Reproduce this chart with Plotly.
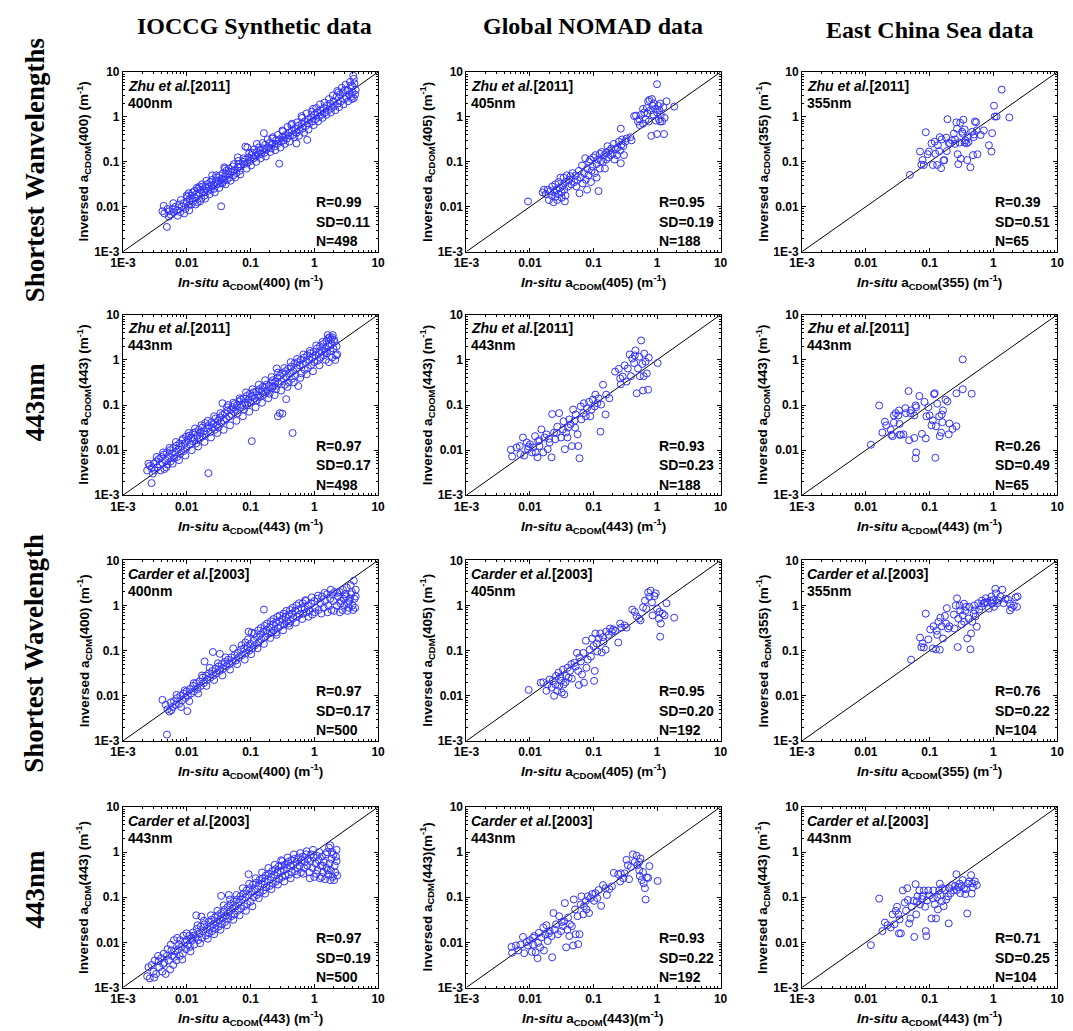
import plotly.graph_objects as go

W, H = 1073, 1031

# ---------------------------------------------------------------------------
# Matchup data, stored as log10 of absorption (m^-1): (in-situ, inversed)
# ---------------------------------------------------------------------------
ioccg_zhu_short = [
    (-2.38, -2.10), (-2.35, -2.15), (-2.30, -2.05), (-2.31, -2.45), (-2.27, -2.10), (-2.25, -2.18),
    (-2.22, -2.05), (-2.20, -2.12), (-2.18, -2.00), (-2.15, -2.08), (-2.12, -1.95), (-2.10, -2.12),
    (-2.08, -2.00), (-2.05, -1.92), (-2.02, -2.05), (-2.00, -1.88), (-1.98, -1.98), (-1.97, -1.70),
    (-1.95, -1.82), (-1.93, -1.95), (-1.92, -1.75), (-1.90, -1.88), (-1.88, -1.65), (-1.87, -1.80),
    (-1.85, -1.72), (-1.83, -1.90), (-1.82, -1.60), (-1.80, -1.70), (-1.78, -1.62), (-1.77, -1.82),
    (-1.75, -1.55), (-1.73, -1.68), (-1.72, -1.75), (-1.70, -1.58), (-1.68, -1.50), (-1.67, -1.65),
    (-1.65, -1.55), (-1.63, -1.45), (-1.62, -1.62), (-1.60, -1.40), (-1.58, -1.52), (-1.57, -1.60),
    (-1.55, -1.45), (-1.53, -1.35), (-1.52, -1.50), (-1.50, -1.42), (-1.48, -1.30), (-1.46, -1.99),
    (-1.47, -1.48), (-1.45, -1.38), (-1.43, -1.25), (-1.42, -1.42), (-1.40, -1.32), (-1.38, -1.20),
    (-1.37, -1.40), (-1.35, -1.28), (-1.33, -1.35), (-1.30, -1.22), (-1.28, -1.10), (-1.27, -1.30),
    (-1.25, -1.18), (-1.22, -1.25), (-1.20, -1.12), (-1.18, -1.05), (-1.17, -1.20), (-1.15, -1.10),
    (-1.12, -1.00), (-1.08, -0.66), (-1.05, -0.68), (-1.10, -1.05), (-1.08, -0.95), (-1.05, -1.02),
    (-1.03, -0.90), (-1.00, -0.98), (-0.98, -0.85), (-0.97, -0.80), (-0.95, -0.92), (-0.92, -0.88),
    (-0.90, -0.78), (-0.88, -0.85), (-0.85, -0.75), (-0.83, -0.82), (-0.80, -0.70), (-0.78, -0.80),
    (-0.77, -0.62), (-0.75, -0.72), (-0.72, -0.68), (-0.70, -0.58), (-0.68, -0.70), (-0.65, -0.60),
    (-0.79, -0.36), (-0.62, -0.65), (-0.60, -0.52), (-0.58, -0.60), (-0.55, -1.04), (-0.55, -0.50),
    (-0.52, -0.55), (-0.50, -0.45), (-0.48, -0.52), (-0.45, -0.40), (-0.43, -0.48), (-0.40, -0.35),
    (-0.38, -0.42), (-0.35, -0.30), (-0.33, -0.40), (-0.30, -0.25), (-0.28, -0.35), (-0.25, -0.20),
    (-0.23, -0.30), (-0.28, -0.59), (-0.20, -0.15), (-0.18, -0.25), (-0.15, -0.10), (-0.13, -0.20),
    (-0.11, -0.51), (-0.10, -0.05), (-0.08, -0.15), (-0.05, 0.00), (-0.03, -0.10), (0.00, 0.05),
    (0.02, -0.05), (0.05, 0.10), (0.07, 0.00), (0.10, 0.15), (0.12, 0.05), (0.15, 0.20),
    (0.17, 0.10), (0.20, 0.25), (0.22, 0.15), (0.25, 0.30), (0.27, 0.20), (0.30, 0.35),
    (0.32, 0.25), (0.35, 0.45), (0.37, 0.30), (0.40, 0.50), (0.42, 0.35), (0.45, 0.55),
    (0.47, 0.40), (0.50, 0.45), (0.52, 0.60), (0.55, 0.50), (0.57, 0.70), (0.60, 0.55),
    (0.62, 0.85), (0.63, 0.75), (0.65, 0.60), (0.58, 0.45), (0.62, 0.42), (0.48, 0.60),
    (0.38, 0.55), (-0.02, 0.18), (-0.20, 0.02), (-0.35, -0.15), (-0.50, -0.30), (-0.65, -0.45),
    (-0.90, -0.60), (-1.20, -0.90), (-1.40, -1.15), (-1.60, -1.30), (-1.80, -1.55), (-2.00, -1.75),
    (-2.36, -1.98), (-2.28, -2.22), (-2.21, -1.92), (-2.14, -2.20), (-2.09, -1.85), (-2.04, -2.15),
    (-1.99, -1.78), (-1.96, -2.08), (-1.91, -1.68), (-1.86, -1.95), (-1.84, -1.58), (-1.79, -1.88),
    (-1.76, -1.50), (-1.71, -1.82), (-1.69, -1.42), (-1.64, -1.72), (-1.61, -1.52), (-1.56, -1.68),
    (-1.54, -1.30), (-1.49, -1.58), (-1.44, -1.48), (-1.41, -1.12), (-1.39, -1.50), (-1.34, -1.15),
    (-1.31, -1.42), (-1.26, -1.05), (-1.24, -1.35), (-1.19, -0.98), (-1.16, -1.28), (-1.11, -0.92),
    (-1.06, -1.15), (-1.02, -0.80), (-0.99, -1.08), (-0.94, -0.72), (-0.91, -1.00), (-0.87, -0.68),
    (-0.84, -0.92), (-0.81, -0.58), (-0.76, -0.88), (-0.73, -0.50), (-0.69, -0.78), (-0.66, -0.48),
    (-0.61, -0.74), (-0.57, -0.40), (-0.53, -0.68), (-0.49, -0.32), (-0.46, -0.60), (-0.42, -0.22),
    (-0.39, -0.55), (-0.36, -0.18), (-0.31, -0.45), (-0.27, -0.12), (-0.24, -0.42), (-0.19, -0.02),
    (-0.16, -0.35), (-0.12, 0.08), (-0.09, -0.28), (-0.04, 0.12), (-0.01, -0.18), (0.03, 0.20),
    (0.06, -0.10), (0.09, 0.28), (0.13, -0.02), (0.16, 0.32), (0.19, 0.05), (0.23, 0.40),
    (0.26, 0.10), (0.29, 0.48), (0.33, 0.15), (0.36, 0.58), (0.39, 0.22), (0.43, 0.65),
    (0.46, 0.28), (0.49, 0.72), (0.53, 0.35), (0.56, 0.78), (0.59, 0.40), (0.61, 0.92),
    (0.64, 0.50), (0.60, 0.68),
]

nomad_zhu_short = [
    (-2.03, -1.88), (-1.80, -1.68), (-1.78, -1.62), (-1.75, -1.72), (-1.72, -1.62), (-1.70, -1.85),
    (-1.68, -1.65), (-1.66, -1.75), (-1.65, -1.55), (-1.63, -1.90), (-1.62, -1.68), (-1.60, -1.78),
    (-1.60, -1.50), (-1.58, -1.62), (-1.57, -1.85), (-1.55, -1.72), (-1.55, -1.45), (-1.53, -1.58),
    (-1.52, -1.35), (-1.50, -1.68), (-1.50, -1.80), (-1.48, -1.52), (-1.47, -1.35), (-1.46, -1.62),
    (-1.45, -1.88), (-1.44, -1.75), (-1.43, -1.45), (-1.42, -1.30), (-1.40, -1.55), (-1.38, -1.40),
    (-1.36, -1.32), (-1.35, -1.50), (-1.33, -1.25), (-1.30, -1.45), (-1.28, -1.30), (-1.27, -1.55),
    (-1.25, -1.40), (-1.23, -1.20), (-1.22, -1.70), (-1.20, -1.35), (-1.18, -1.08), (-1.17, -1.48),
    (-1.15, -1.25), (-1.13, -0.92), (-1.12, -1.40), (-1.10, -1.62), (-1.10, -1.15), (-1.08, -1.30),
    (-1.07, -1.00), (-1.05, -0.95), (-1.04, -1.45), (-1.03, -1.20), (-1.02, -1.10), (-1.00, -0.90),
    (-0.98, -1.25), (-0.97, -0.85), (-0.95, -1.05), (-0.95, -1.35), (-0.93, -0.95), (-0.92, -1.65),
    (-0.90, -0.82), (-0.90, -1.15), (-0.88, -0.98), (-0.87, -0.78), (-0.85, -1.00), (-0.83, -0.85),
    (-0.82, -1.15), (-0.80, -0.80), (-0.80, -0.95), (-0.78, -0.65), (-0.76, -0.90), (-0.75, -0.75),
    (-0.73, -0.85), (-0.72, -0.70), (-0.70, -0.82), (-0.68, -0.60), (-0.67, -0.95), (-0.65, -0.72),
    (-0.63, -0.85), (-0.62, -0.68), (-0.60, -0.55), (-0.57, -1.03), (-0.58, -0.75), (-0.56, -0.62),
    (-0.55, -0.50), (-0.53, -0.65), (-0.52, -0.85), (-0.50, -0.55), (-0.48, -0.48), (-0.57, -0.26),
    (-0.42, -0.45), (-0.40, -0.52),
    (-0.36, 0.02), (-0.33, 0.03), (-0.30, -0.10), (-0.28, -0.05), (-0.27, -0.18), (-0.25, 0.05),
    (-0.22, -0.15), (-0.20, 0.10), (-0.18, -0.05), (-0.16, 0.20), (-0.15, 0.08), (-0.13, -0.10),
    (-0.12, 0.38), (-0.10, 0.15), (-0.09, -0.42), (-0.08, 0.40), (-0.07, 0.25), (-0.06, 0.05),
    (-0.05, 0.30), (-0.03, 0.18), (-0.02, -0.08), (0.00, 0.73), (0.00, 0.10), (0.00, -0.38),
    (0.02, 0.25), (0.03, -0.05), (0.04, 0.15), (0.05, -0.10), (0.06, 0.05), (0.08, -0.10),
    (0.10, 0.22), (0.11, -0.38), (0.12, -0.02), (0.15, 0.35), (0.27, 0.23), (-0.22, 0.18),
    (-0.14, 0.35), (0.05, 0.30),
]

ecs_zhu_short = [
    (-1.31, -1.29), (-1.15, -0.77), (-1.13, -1.06), (-1.11, -0.96), (-1.09, -1.07), (-1.06, -0.34),
    (-1.03, -0.83), (-1.01, -0.77), (-0.97, -0.59), (-0.95, -1.07), (-0.92, -0.55), (-0.91, -0.82),
    (-0.88, -1.07), (-0.87, -0.63), (-0.84, -0.45), (-0.82, -1.14), (-0.81, -0.50), (-0.78, -0.97),
    (-0.77, -0.96), (-0.74, -0.46), (-0.73, -0.76), (-0.72, -0.05), (-0.70, -0.58), (-0.68, -0.59),
    (-0.62, -0.37), (-0.60, -0.60), (-0.58, -0.12), (-0.57, -0.26), (-0.56, -0.83), (-0.55, -1.05),
    (-0.53, -0.57), (-0.52, -0.13), (-0.51, -0.93), (-0.49, -0.33), (-0.48, -0.37), (-0.47, -0.06),
    (-0.45, -0.57), (-0.44, -0.52), (-0.41, -0.96), (-0.40, -0.45), (-0.36, -1.12), (-0.32, -0.85),
    (-0.31, -0.45), (-0.30, -0.39), (-0.29, -0.10), (-0.27, -0.12), (-0.26, -0.30), (-0.25, -0.83),
    (-0.15, -0.30), (-0.07, -0.63), (-0.03, -0.77), (0.01, 0.25), (0.02, 0.01), (0.05, 0.01),
    (0.13, 0.61), (0.25, -0.01), (-0.02, -0.36), (-0.45, -0.28), (-0.85, -0.76), (-0.39, -0.56),
    (-0.65, -0.52), (-0.42, -0.59), (-0.20, -0.40), (-0.60, -0.50), (-0.33, -0.33),
]

ioccg_zhu_443 = [
    (-2.62, -2.45), (-2.58, -2.35), (-2.55, -2.73), (-2.55, -2.40), (-2.52, -2.30), (-2.50, -2.45),
    (-2.48, -2.25), (-2.46, -2.38), (-2.44, -2.20), (-2.42, -2.32), (-2.40, -2.15), (-2.38, -2.28),
    (-2.36, -2.10), (-2.35, -2.42), (-2.33, -2.22), (-2.31, -2.05), (-2.30, -2.32), (-2.28, -2.15),
    (-2.26, -2.00), (-2.25, -2.25), (-2.23, -2.08), (-2.21, -1.95), (-2.20, -2.18), (-2.18, -2.05),
    (-2.16, -1.90), (-2.15, -2.15), (-2.13, -1.98), (-2.11, -1.85), (-2.10, -2.08), (-2.08, -1.92),
    (-2.06, -1.75), (-2.05, -2.02), (-2.03, -1.85), (-2.01, -1.70), (-2.00, -1.95), (-1.98, -1.78),
    (-1.96, -1.68), (-1.95, -1.88), (-1.93, -1.72), (-1.91, -1.80), (-1.90, -1.62), (-1.88, -1.75),
    (-1.86, -1.60), (-1.85, -1.85), (-1.83, -1.68), (-1.81, -1.55), (-1.80, -1.75), (-1.78, -1.62),
    (-1.76, -1.50), (-1.75, -1.70), (-1.73, -1.58), (-1.71, -1.40), (-1.70, -1.65), (-1.68, -1.52),
    (-1.66, -2.51), (-1.65, -1.45), (-1.63, -1.60), (-1.61, -1.38), (-1.60, -1.50), (-1.58, -1.42),
    (-1.56, -1.55), (-1.55, -1.30), (-1.53, -1.45), (-1.51, -1.35), (-1.50, -1.50), (-1.48, -1.28),
    (-1.46, -1.40), (-1.44, -0.96), (-1.44, -1.22), (-1.42, -1.35), (-1.40, -1.18), (-1.38, -1.30),
    (-1.36, -1.12), (-1.35, -1.00), (-1.33, -1.25), (-1.31, -1.10), (-1.30, -1.20), (-1.28, -1.05),
    (-1.26, -1.15), (-1.25, -0.98), (-1.23, -1.10), (-1.21, -1.00), (-1.20, -1.18), (-1.18, -0.92),
    (-1.16, -1.05), (-1.15, -0.88), (-1.13, -1.00), (-1.11, -0.85), (-1.10, -1.10), (-1.08, -0.95),
    (-1.06, -0.80), (-1.05, -1.00), (-1.03, -0.88), (-1.01, -0.75), (-1.00, -0.95), (-0.98, -1.80),
    (-0.98, -0.82), (-0.96, -0.92), (-0.95, -0.72), (-0.93, -0.85), (-0.91, -0.70), (-0.90, -0.90),
    (-0.88, -0.78), (-0.86, -0.65), (-0.85, -0.82), (-0.83, -0.70), (-0.81, -0.60), (-0.80, -0.78),
    (-0.78, -0.62), (-0.76, -0.72), (-0.75, -0.55), (-0.73, -0.68), (-0.71, -0.58), (-0.70, -0.75),
    (-0.68, -0.50), (-0.66, -0.62), (-0.65, -0.45), (-0.63, -0.58), (-0.61, -0.48), (-0.60, -0.65),
    (-0.59, -0.19), (-0.58, -0.40), (-0.57, -1.25), (-0.56, -0.52), (-0.54, -1.18), (-0.54, -0.35),
    (-0.52, -0.48), (-0.50, -1.19), (-0.50, -0.30), (-0.48, -0.42), (-0.46, -0.55), (-0.45, -0.25),
    (-0.44, -0.87), (-0.43, -0.38), (-0.41, -0.20), (-0.40, -0.50), (-0.38, -0.30), (-0.36, -0.15),
    (-0.35, -0.42), (-0.34, -1.62), (-0.33, -0.25), (-0.31, -0.08), (-0.30, -0.35), (-0.28, -0.18),
    (-0.26, -0.05), (-0.25, -0.58), (-0.23, -0.12), (-0.21, 0.00), (-0.20, -0.30), (-0.18, -0.10),
    (-0.16, 0.05), (-0.15, -0.22), (-0.13, -0.05), (-0.11, 0.10), (-0.10, -0.18), (-0.08, 0.00),
    (-0.06, 0.15), (-0.05, -0.12), (-0.03, 0.05), (-0.01, 0.18), (0.00, -0.05), (0.02, 0.10),
    (0.04, 0.25), (0.05, -0.02), (0.07, 0.15), (0.09, 0.30), (0.10, 0.05), (0.12, 0.20),
    (0.14, 0.35), (0.15, 0.10), (0.17, 0.25), (0.19, 0.42), (0.20, 0.15), (0.22, 0.30),
    (0.24, 0.50), (0.25, 0.20), (0.27, 0.35), (0.29, 0.55), (0.30, 0.25), (0.32, 0.40),
    (0.34, 0.10), (0.35, 0.30), (0.36, 0.12), (0.22, 0.48), (0.26, 0.45), (0.28, 0.05),
    (-2.60, -2.30), (-2.53, -2.52), (-2.47, -2.15), (-2.41, -2.45), (-2.37, -2.05), (-2.32, -2.38),
    (-2.27, -1.95), (-2.22, -2.30), (-2.17, -1.82), (-2.12, -2.22), (-2.07, -1.78), (-2.02, -2.12),
    (-1.97, -1.62), (-1.92, -2.00), (-1.87, -1.52), (-1.82, -1.92), (-1.77, -1.45), (-1.72, -1.82),
    (-1.67, -1.35), (-1.62, -1.72), (-1.57, -1.25), (-1.52, -1.62), (-1.47, -1.18), (-1.42, -1.55),
    (-1.37, -1.05), (-1.32, -1.45), (-1.27, -0.95), (-1.22, -1.35), (-1.17, -0.85), (-1.12, -1.25),
    (-1.07, -0.72), (-1.02, -1.15), (-0.97, -0.65), (-0.92, -1.05), (-0.87, -0.55), (-0.82, -0.95),
    (-0.77, -0.45), (-0.72, -0.85), (-0.67, -0.38), (-0.62, -0.78), (-0.57, -0.28), (-0.52, -0.68),
    (-0.47, -0.18), (-0.42, -0.60), (-0.37, -0.05), (-0.32, -0.50), (-0.27, 0.02), (-0.22, -0.40),
    (-0.17, 0.12), (-0.12, -0.32), (-0.07, 0.20), (-0.02, -0.25), (0.03, 0.32), (0.08, -0.12),
    (0.13, 0.40), (0.18, 0.00), (0.21, 0.55), (0.23, -0.05), (0.28, 0.50), (0.31, 0.45),
    (0.33, 0.00), (0.18, 0.18),
]

nomad_zhu_443 = [
    (-2.30, -1.99), (-2.28, -2.14), (-2.21, -1.94), (-2.16, -1.91), (-2.15, -2.09), (-2.11, -1.72),
    (-2.09, -2.12), (-2.05, -1.83), (-2.03, -1.98), (-2.00, -1.87), (-1.97, -2.05), (-1.95, -1.94),
    (-1.92, -1.69), (-1.91, -2.05), (-1.88, -2.16), (-1.87, -1.80), (-1.85, -1.91), (-1.82, -1.54),
    (-1.79, -2.05), (-1.77, -1.72), (-1.74, -1.65), (-1.72, -1.98), (-1.69, -1.83), (-1.66, -2.16),
    (-1.65, -1.20), (-1.62, -1.61), (-1.60, -1.76), (-1.57, -1.48), (-1.54, -1.18), (-1.51, -1.72),
    (-1.48, -1.54), (-1.47, -1.36), (-1.45, -1.98), (-1.43, -1.61), (-1.41, -1.72), (-1.38, -1.32),
    (-1.36, -1.43), (-1.34, -1.91), (-1.32, -1.10), (-1.29, -1.50), (-1.28, -1.21), (-1.25, -1.65),
    (-1.24, -1.91), (-1.22, -2.18), (-1.20, -1.03), (-1.19, -1.32), (-1.16, -1.18), (-1.15, -0.96),
    (-1.12, -1.25), (-1.10, -1.07), (-1.07, -0.93), (-1.05, -1.25), (-1.03, -1.10), (-1.01, -0.88),
    (-0.98, -1.03), (-0.97, -0.77), (-0.94, -0.96), (-0.92, -0.85), (-0.89, -1.59), (-0.88, -0.99),
    (-0.85, -0.55), (-0.81, -1.21), (-0.80, -0.77), (-0.75, -0.85), (-1.70, -1.75), (-1.58, -1.62),
    (-1.40, -1.50), (-1.30, -1.35), (-1.85, -1.78), (-2.02, -1.92),
    (-0.66, -0.26), (-0.60, -0.20), (-0.58, -0.41), (-0.57, -0.54), (-0.54, -0.37), (-0.51, -0.12),
    (-0.48, -0.48), (-0.46, -0.19), (-0.43, 0.12), (-0.41, -0.36), (-0.39, 0.03), (-0.36, -0.07),
    (-0.34, 0.21), (-0.32, -0.74), (-0.30, -0.19), (-0.28, 0.07), (-0.27, -0.36), (-0.25, 0.43),
    (-0.23, -0.09), (-0.22, -0.68), (-0.21, -0.36), (-0.18, -0.04), (-0.16, -0.30), (-0.14, -0.66),
    (-0.13, 0.05), (0.01, -0.07), (-0.20, 0.14), (-0.35, 0.10),
]

ecs_zhu_443 = [
    (-1.92, -1.88), (-1.79, -1.01), (-1.74, -1.61), (-1.70, -1.37), (-1.68, -1.45), (-1.61, -1.55),
    (-1.60, -1.66), (-1.58, -1.69), (-1.56, -1.23), (-1.56, -1.39), (-1.53, -1.18), (-1.49, -1.23),
    (-1.48, -1.12), (-1.47, -1.42), (-1.47, -1.66), (-1.45, -1.66), (-1.41, -1.65), (-1.38, -1.07),
    (-1.37, -1.18), (-1.33, -0.69), (-1.32, -1.78), (-1.30, -1.18), (-1.29, -1.12), (-1.24, -1.23),
    (-1.24, -1.73), (-1.22, -1.01), (-1.21, -1.05), (-1.21, -2.05), (-1.22, -2.18), (-1.16, -0.80),
    (-1.12, -1.64), (-1.08, -0.93), (-1.06, -1.74), (-1.05, -1.25), (-1.02, -1.05), (-1.00, -1.23),
    (-0.97, -1.45), (-0.95, -1.34), (-0.93, -0.76), (-0.92, -0.74), (-0.91, -2.17), (-0.90, -1.47),
    (-0.88, -0.97), (-0.85, -1.25), (-0.84, -1.69), (-0.82, -1.61), (-0.81, -1.21), (-0.80, -1.38),
    (-0.79, -1.12), (-0.75, -0.88), (-0.72, -0.92), (-0.70, -1.65), (-0.69, -1.41), (-0.64, -1.53),
    (-0.58, -1.47), (-0.58, -0.74), (-0.48, 0.01), (-0.48, -0.65), (-0.34, -0.75),
]

ioccg_carder_short = [
    (-2.38, -2.09), (-2.31, -2.86), (-2.30, -2.30), (-2.27, -2.35), (-2.25, -2.15), (-2.22, -2.25),
    (-2.20, -2.12), (-2.17, -2.20), (-2.15, -2.05), (-2.12, -2.18), (-2.10, -2.00), (-2.07, -2.10),
    (-2.05, -1.95), (-2.02, -2.05), (-1.99, -2.34), (-2.00, -1.90), (-1.98, -2.00), (-1.95, -1.85),
    (-1.93, -1.95), (-1.90, -1.78), (-1.88, -1.90), (-1.85, -1.72), (-1.83, -1.85), (-1.80, -1.68),
    (-1.78, -1.78), (-1.75, -1.60), (-1.73, -1.72), (-1.72, -1.24), (-1.70, -1.55), (-1.68, -1.65),
    (-1.65, -1.50), (-1.63, -1.60), (-1.60, -1.45), (-1.59, -1.03), (-1.58, -1.55), (-1.55, -1.40),
    (-1.53, -1.50), (-1.50, -1.35), (-1.48, -1.07), (-1.48, -1.45), (-1.45, -1.30), (-1.43, -1.40),
    (-1.40, -1.25), (-1.38, -1.35), (-1.35, -1.20), (-1.33, -1.30), (-1.30, -1.15), (-1.28, -1.25),
    (-1.25, -1.10), (-1.23, -1.22), (-1.20, -1.05), (-1.18, -1.15), (-1.15, -0.98), (-1.13, -1.10),
    (-1.10, -0.95), (-1.08, -0.82), (-1.07, -1.05), (-1.05, -0.92), (-1.03, -0.58), (-1.02, -1.00),
    (-1.00, -0.85), (-0.98, -0.60), (-0.97, -0.95), (-0.95, -0.78), (-0.93, -0.88), (-0.90, -0.70),
    (-0.88, -0.55), (-0.87, -0.82), (-0.85, -0.65), (-0.83, -0.75), (-0.80, -0.58), (-0.79, -0.09),
    (-0.78, -0.45), (-0.77, -0.70), (-0.75, -0.55), (-0.73, -0.62), (-0.70, -0.48), (-0.68, -0.35),
    (-0.67, -0.60), (-0.65, -0.42), (-0.63, -0.55), (-0.60, -0.38), (-0.58, -0.25), (-0.57, -0.50),
    (-0.55, -0.35), (-0.53, -0.45), (-0.50, -0.30), (-0.48, -0.18), (-0.47, -0.42), (-0.45, -0.25),
    (-0.43, -0.35), (-0.40, -0.20), (-0.38, -0.10), (-0.37, -0.35), (-0.35, -0.18), (-0.33, -0.28),
    (-0.30, -0.12), (-0.28, 0.00), (-0.27, -0.25), (-0.25, -0.10), (-0.23, -0.20), (-0.20, -0.05),
    (-0.18, 0.05), (-0.17, -0.18), (-0.15, -0.08), (-0.13, 0.10), (-0.12, -0.15), (-0.10, 0.00),
    (-0.08, -0.12), (-0.05, 0.05), (-0.03, -0.20), (0.00, 0.10), (0.02, -0.05), (0.05, 0.15),
    (0.07, -0.10), (0.10, 0.05), (0.12, 0.20), (0.15, -0.05), (0.17, 0.10), (0.20, 0.25),
    (0.22, 0.00), (0.25, 0.15), (0.27, -0.10), (0.30, 0.10), (0.32, 0.30), (0.35, 0.00),
    (0.37, 0.20), (0.40, -0.15), (0.42, 0.10), (0.45, 0.35), (0.47, 0.00), (0.50, 0.20),
    (0.52, -0.12), (0.55, 0.10), (0.57, 0.45), (0.58, 0.25), (0.60, 0.00), (0.62, 0.55),
    (0.63, 0.15), (0.65, 0.35), (0.64, -0.05), (0.40, 0.30), (0.28, 0.25), (-0.40, -0.40),
    (-0.60, -0.60),
    (-2.33, -2.20), (-2.24, -2.32), (-2.16, -1.98), (-2.09, -2.25), (-2.03, -1.88), (-1.96, -2.12),
    (-1.89, -1.72), (-1.82, -1.95), (-1.76, -1.55), (-1.69, -1.78), (-1.64, -1.38), (-1.57, -1.65),
    (-1.51, -1.28), (-1.44, -1.55), (-1.39, -1.15), (-1.32, -1.42), (-1.27, -0.95), (-1.21, -1.30),
    (-1.14, -0.88), (-1.09, -1.20), (-1.04, -0.75), (-0.99, -1.08), (-0.94, -0.62), (-0.89, -0.95),
    (-0.84, -0.50), (-0.79, -0.85), (-0.74, -0.40), (-0.69, -0.72), (-0.64, -0.30), (-0.59, -0.65),
    (-0.54, -0.22), (-0.49, -0.55), (-0.44, -0.12), (-0.39, -0.45), (-0.34, -0.05), (-0.29, -0.38),
    (-0.24, 0.05), (-0.19, -0.30), (-0.14, 0.12), (-0.09, -0.25), (-0.04, 0.18), (0.01, -0.15),
    (0.06, 0.22), (0.11, -0.18), (0.16, 0.28), (0.21, -0.15), (0.26, 0.35), (0.31, -0.12),
    (0.36, 0.28), (0.41, 0.05), (0.44, -0.10), (0.48, 0.25), (0.51, 0.40), (0.54, -0.05),
    (0.56, 0.15), (0.59, 0.30), (0.61, -0.10), (0.65, 0.20), (0.53, 0.05), (0.46, 0.15),
]

nomad_carder_short = [
    (-2.02, -1.87), (-1.83, -1.71), (-1.79, -1.70), (-1.74, -1.89), (-1.72, -1.75), (-1.69, -1.64),
    (-1.66, -1.82), (-1.64, -1.67), (-1.62, -2.00), (-1.60, -1.75), (-1.59, -1.56), (-1.57, -1.89),
    (-1.55, -1.49), (-1.54, -1.78), (-1.51, -1.67), (-1.50, -1.93), (-1.48, -1.42), (-1.47, -1.75),
    (-1.46, -1.97), (-1.43, -1.56), (-1.41, -1.38), (-1.39, -1.60), (-1.37, -1.45), (-1.34, -1.62),
    (-1.30, -1.27), (-1.28, -1.35), (-1.26, -1.05), (-1.24, -1.45), (-1.23, -1.76), (-1.20, -1.24),
    (-1.18, -1.53), (-1.16, -1.05), (-1.15, -1.71), (-1.12, -0.78), (-1.11, -1.38), (-1.09, -1.20),
    (-1.06, -0.98), (-1.04, -1.13), (-1.02, -0.73), (-0.99, -1.67), (-0.98, -1.45), (-0.97, -0.62),
    (-0.95, -0.84), (-0.94, -1.02), (-0.92, -0.73), (-0.89, -0.62), (-0.87, -1.04), (-0.84, -0.80),
    (-0.81, -0.98), (-0.80, -0.58), (-0.76, -0.65), (-0.74, -0.51), (-0.71, -0.58), (-0.69, -0.53),
    (-0.66, -0.56), (-0.61, -0.82), (-0.58, -0.40), (-0.56, -0.49), (-0.51, -0.44), (-0.48, -0.49),
    (-1.52, -1.58), (-1.44, -1.70), (-1.35, -1.30), (-1.22, -1.15), (-1.00, -0.90), (-0.85, -0.70),
    (-0.39, -0.09), (-0.35, -0.14), (-0.32, -0.24), (-0.28, -0.29), (-0.26, -0.33), (-0.22, -0.04),
    (-0.19, 0.11), (-0.17, -0.07), (-0.14, 0.29), (-0.12, 0.19), (-0.10, 0.33), (-0.08, 0.07),
    (-0.07, -0.22), (-0.04, 0.21), (-0.02, 0.27), (0.00, -0.07), (0.03, -0.29), (0.04, -0.14),
    (0.05, -0.69), (0.06, -0.40), (0.09, -0.18), (0.12, -0.22), (0.15, 0.05), (0.27, -0.27),
]

ecs_carder_short = [
    (-1.29, -1.20), (-1.15, -0.71), (-1.13, -0.92), (-1.11, -0.84), (-1.09, -0.93), (-1.06, -0.18),
    (-1.02, -0.75), (-0.99, -0.53), (-0.95, -0.95), (-0.94, -0.46), (-0.90, -0.97), (-0.89, -0.56),
    (-0.88, -0.65), (-0.86, -0.36), (-0.84, -0.98), (-0.83, -0.27), (-0.81, -0.46), (-0.79, -0.73),
    (-0.76, -0.23), (-0.74, -0.40), (-0.73, -0.06), (-0.71, -0.51), (-0.69, -0.46), (-0.62, -0.20),
    (-0.61, -0.51), (-0.59, 0.00), (-0.57, 0.16), (-0.56, -0.92), (-0.55, -0.29), (-0.53, 0.00),
    (-0.52, -0.11), (-0.50, -0.42), (-0.48, -0.22), (-0.46, 0.04), (-0.46, -0.36), (-0.44, -0.12),
    (-0.43, -0.03), (-0.41, -0.73), (-0.39, -0.29), (-0.38, -0.03), (-0.36, -0.97), (-0.35, -0.62),
    (-0.33, -0.36), (-0.31, -0.18), (-0.30, 0.00), (-0.29, -0.11), (-0.28, -0.24), (-0.26, -0.47),
    (-0.24, 0.05), (-0.22, -0.09), (-0.18, 0.11), (-0.15, 0.05), (-0.12, 0.16), (-0.10, 0.07),
    (-0.07, -0.07), (-0.05, 0.11), (-0.03, 0.20), (-0.02, 0.04), (0.00, 0.12), (0.01, -0.03),
    (0.03, 0.37), (0.04, 0.27), (0.06, 0.05), (0.08, 0.11), (0.11, 0.20), (0.14, 0.35),
    (0.16, 0.05), (0.19, 0.15), (0.23, 0.13), (0.26, -0.11), (0.29, -0.05), (0.32, 0.00),
    (0.35, 0.18), (0.37, -0.03), (0.38, 0.20), (0.26, 0.04), (-0.13, 0.07), (-0.18, -0.02),
]

ioccg_carder_443 = [
    (-2.62, -2.75), (-2.58, -2.80), (-2.55, -2.50), (-2.52, -2.65), (-2.50, -2.40), (-2.48, -2.70),
    (-2.45, -2.30), (-2.43, -2.55), (-2.40, -2.35), (-2.38, -2.65), (-2.36, -2.25), (-2.35, -2.45),
    (-2.33, -2.70), (-2.30, -2.15), (-2.28, -2.40), (-2.26, -2.60), (-2.25, -2.05), (-2.23, -2.30),
    (-2.21, -2.50), (-2.20, -1.95), (-2.18, -2.20), (-2.16, -2.40), (-2.15, -1.90), (-2.13, -2.15),
    (-2.11, -2.30), (-2.10, -1.95), (-2.08, -2.10), (-2.06, -2.25), (-2.05, -1.85), (-2.03, -2.00),
    (-2.01, -2.15), (-2.00, -1.95), (-1.98, -2.05), (-1.96, -1.85), (-1.95, -2.10), (-1.93, -1.90),
    (-1.91, -1.95), (-1.90, -1.78), (-1.88, -2.05), (-1.86, -1.88), (-1.85, -1.40), (-1.84, -1.70),
    (-1.82, -1.95), (-1.80, -1.80), (-1.78, -1.65), (-1.77, -1.43), (-1.76, -1.90), (-1.74, -1.75),
    (-1.72, -1.60), (-1.70, -1.85), (-1.68, -1.70), (-1.66, -1.55), (-1.65, -1.80), (-1.63, -1.65),
    (-1.61, -1.50), (-1.60, -1.75), (-1.58, -1.60), (-1.56, -1.45), (-1.55, -1.70), (-1.53, -1.55),
    (-1.51, -1.40), (-1.50, -1.65), (-1.48, -1.50), (-1.46, -0.97), (-1.46, -1.35), (-1.45, -1.60),
    (-1.43, -1.45), (-1.41, -1.28), (-1.40, -1.55), (-1.38, -1.40), (-1.36, -1.22), (-1.34, -0.95),
    (-1.35, -1.48), (-1.33, -1.32), (-1.31, -1.15), (-1.30, -1.42), (-1.28, -1.25), (-1.26, -1.10),
    (-1.25, -1.38), (-1.23, -1.20), (-1.21, -1.05), (-1.20, -1.30), (-1.18, -1.12), (-1.16, -0.98),
    (-1.15, -1.25), (-1.13, -1.05), (-1.11, -0.92), (-1.10, -1.20), (-1.08, -1.00), (-1.06, -0.85),
    (-1.05, -1.15), (-1.03, -0.49), (-1.03, -0.95), (-1.01, -0.80), (-1.00, -1.10), (-0.98, -0.88),
    (-0.96, -0.72), (-0.95, -1.00), (-0.93, -0.82), (-0.91, -0.68), (-0.90, -0.95), (-0.88, -0.75),
    (-0.86, -0.62), (-0.85, -0.90), (-0.83, -0.70), (-0.81, -0.58), (-0.80, -0.85), (-0.78, -0.65),
    (-0.76, -0.52), (-0.75, -0.78), (-0.73, -0.60), (-0.71, -0.48), (-0.70, -0.75), (-0.68, -0.55),
    (-0.66, -0.42), (-0.65, -0.70), (-0.63, -0.50), (-0.61, -0.38), (-0.60, -0.65), (-0.58, -0.45),
    (-0.56, -0.32), (-0.55, -0.60), (-0.53, -0.42), (-0.51, -0.30), (-0.50, -0.20), (-0.50, -0.55),
    (-0.48, -0.38), (-0.46, -0.28), (-0.45, -0.52), (-0.43, -0.35), (-0.41, -0.22), (-0.40, -0.50),
    (-0.38, -0.30), (-0.36, -0.18), (-0.35, -0.45), (-0.33, -0.28), (-0.31, -0.15), (-0.30, -0.42),
    (-0.28, -0.22), (-0.26, -0.35), (-0.25, -0.12), (-0.23, -0.30), (-0.21, -0.45), (-0.20, -0.18),
    (-0.18, -0.10), (-0.16, -0.35), (-0.15, -0.22), (-0.13, -0.05), (-0.11, -0.30), (-0.10, -0.15),
    (-0.08, -0.45), (-0.06, -0.20), (-0.05, -0.05), (-0.03, -0.35), (-0.01, -0.12), (0.00, -0.55),
    (0.02, -0.25), (0.04, -0.08), (0.05, -0.40), (0.07, -0.18), (0.09, -0.58), (0.10, -0.30),
    (0.12, -0.10), (0.14, -0.45), (0.15, -0.22), (0.17, -0.60), (0.19, -0.35), (0.20, 0.00),
    (0.22, -0.50), (0.23, 0.10), (0.24, -0.25), (0.26, -0.40), (0.27, -0.15), (0.29, -0.55),
    (0.30, -0.05), (0.32, -0.30), (0.33, -0.45), (0.35, -0.20), (0.36, -0.52), (0.35, 0.05),
    (0.25, 0.15),
    (-2.60, -2.55), (-2.51, -2.78), (-2.44, -2.42), (-2.37, -2.48), (-2.31, -2.30), (-2.24, -2.18),
    (-2.19, -2.32), (-2.12, -2.05), (-2.07, -2.38), (-2.00, -1.80), (-1.94, -2.20), (-1.89, -1.85),
    (-1.83, -1.62), (-1.79, -2.02), (-1.73, -1.52), (-1.67, -1.92), (-1.62, -1.40), (-1.57, -1.82),
    (-1.52, -1.30), (-1.47, -1.72), (-1.42, -1.18), (-1.37, -1.62), (-1.32, -1.05), (-1.27, -1.50),
    (-1.22, -0.95), (-1.17, -1.40), (-1.12, -0.80), (-1.07, -1.30), (-1.02, -0.70), (-0.97, -1.20),
    (-0.92, -0.58), (-0.87, -1.02), (-0.82, -0.45), (-0.77, -0.92), (-0.72, -0.35), (-0.67, -0.82),
    (-0.62, -0.28), (-0.57, -0.72), (-0.52, -0.18), (-0.47, -0.65), (-0.42, -0.12), (-0.37, -0.58),
    (-0.32, -0.05), (-0.27, -0.50), (-0.22, -0.02), (-0.17, -0.48), (-0.12, 0.02), (-0.07, -0.58),
    (-0.02, 0.05), (0.03, -0.48), (0.08, 0.00), (0.13, -0.30), (0.18, -0.05), (0.21, -0.40),
    (0.28, 0.00), (0.31, -0.62), (0.34, -0.10), (0.25, -0.62), (0.12, -0.55),
]

nomad_carder_443 = [
    (-2.29, -2.10), (-2.28, -2.23), (-2.22, -2.07), (-2.18, -2.18), (-2.15, -2.05), (-2.11, -1.88),
    (-2.09, -2.24), (-2.05, -1.99), (-2.03, -2.07), (-2.00, -1.95), (-1.97, -2.21), (-1.95, -2.05),
    (-1.93, -1.86), (-1.91, -2.22), (-1.88, -2.35), (-1.87, -2.01), (-1.86, -1.79), (-1.84, -2.11),
    (-1.82, -1.89), (-1.79, -1.67), (-1.78, -2.18), (-1.76, -1.82), (-1.74, -1.62), (-1.72, -1.97),
    (-1.69, -1.75), (-1.66, -1.86), (-1.65, -2.33), (-1.63, -1.35), (-1.61, -1.72), (-1.59, -1.60),
    (-1.56, -1.82), (-1.54, -1.42), (-1.51, -1.75), (-1.48, -1.64), (-1.46, -1.53), (-1.45, -1.13),
    (-1.43, -2.11), (-1.41, -1.72), (-1.38, -1.86), (-1.37, -1.60), (-1.34, -1.64), (-1.32, -2.07),
    (-1.31, -1.05), (-1.29, -1.27), (-1.28, -1.82), (-1.25, -1.42), (-1.24, -2.04), (-1.22, -1.82),
    (-1.20, -1.16), (-1.19, -0.98), (-1.16, -1.38), (-1.15, -1.20), (-1.12, -1.08), (-1.11, -1.27),
    (-1.09, -0.98), (-1.07, -1.35), (-1.05, -1.02), (-1.02, -0.93), (-0.99, -1.08), (-0.97, -0.91),
    (-0.94, -1.02), (-0.92, -0.84), (-0.88, -1.19), (-0.85, -0.73), (-0.81, -0.80), (-0.79, -0.95),
    (-0.75, -0.82), (-0.71, -0.76), (-1.70, -1.80), (-1.50, -1.55), (-1.40, -1.45), (-1.95, -1.90),
    (-0.68, -0.46), (-0.61, -0.49), (-0.58, -0.65), (-0.57, -0.47), (-0.53, -0.58), (-0.51, -0.47),
    (-0.48, -0.17), (-0.46, -0.29), (-0.44, -0.60), (-0.41, -0.33), (-0.38, -0.05), (-0.35, -0.22),
    (-0.32, -0.08), (-0.31, -0.29), (-0.28, -0.40), (-0.27, -0.53), (-0.26, -0.14), (-0.24, -0.62),
    (-0.22, -0.44), (-0.21, -0.69), (-0.19, -0.80), (-0.18, -1.05), (-0.16, -0.56), (-0.14, -0.57),
    (-0.12, -0.31), (0.01, -0.64), (-0.28, -0.22),
]

ecs_carder_443 = [
    (-1.92, -2.06), (-1.79, -1.03), (-1.74, -1.75), (-1.70, -1.56), (-1.66, -1.62), (-1.61, -1.67),
    (-1.58, -1.38), (-1.55, -1.60), (-1.53, -1.30), (-1.51, -1.21), (-1.49, -1.38), (-1.48, -1.80),
    (-1.47, -1.49), (-1.45, -1.80), (-1.42, -0.85), (-1.39, -1.12), (-1.37, -1.30), (-1.35, -0.80),
    (-1.34, -1.06), (-1.32, -1.58), (-1.30, -1.47), (-1.28, -1.21), (-1.25, -1.08), (-1.24, -1.88),
    (-1.22, -0.71), (-1.21, -1.38), (-1.20, -1.09), (-1.19, -0.98), (-1.16, -0.85), (-1.15, -1.16),
    (-1.12, -1.04), (-1.11, -0.97), (-1.09, -0.85), (-1.07, -1.21), (-1.06, -1.75), (-1.05, -1.86),
    (-1.04, -1.07), (-1.02, -0.85), (-1.00, -0.96), (-0.97, -1.47), (-0.95, -1.02), (-0.94, -0.85),
    (-0.92, -1.16), (-0.90, -1.47), (-0.88, -1.00), (-0.87, -1.27), (-0.85, -0.85), (-0.84, -0.70),
    (-0.83, -0.95), (-0.81, -1.09), (-0.80, -0.80), (-0.78, -1.20), (-0.76, -0.84), (-0.74, -1.05),
    (-0.71, -0.98), (-0.70, -1.58), (-0.69, -0.80), (-0.67, -0.91), (-0.65, -0.73), (-0.62, -0.85),
    (-0.60, -0.75), (-0.58, -0.49), (-0.57, -0.84), (-0.55, -0.78), (-0.53, -0.70), (-0.52, -0.91),
    (-0.50, -0.75), (-0.48, -0.62), (-0.46, -0.80), (-0.44, -0.93), (-0.43, -0.82), (-0.41, -1.36),
    (-0.40, -0.70), (-0.38, -0.65), (-0.35, -0.51), (-0.34, -0.92), (-0.32, -0.78), (-0.29, -0.65),
    (-0.26, -0.73), (-0.33, -0.69),
]

# Panel texts
methods = ["<i>Zhu et al.</i>[2011]", "<i>Zhu et al.</i>[2011]",
           "<i>Carder et al.</i>[2003]", "<i>Carder et al.</i>[2003]"]
bands = [["400nm", "405nm", "355nm"], ["443nm", "443nm", "443nm"],
         ["400nm", "405nm", "355nm"], ["443nm", "443nm", "443nm"]]
r_vals = [["0.99", "0.95", "0.39"], ["0.97", "0.93", "0.26"],
          ["0.97", "0.95", "0.76"], ["0.97", "0.93", "0.71"]]
sd_vals = [["0.11", "0.19", "0.51"], ["0.17", "0.23", "0.49"],
           ["0.17", "0.20", "0.22"], ["0.19", "0.22", "0.25"]]
n_vals = [["498", "188", "65"], ["498", "188", "65"],
          ["500", "192", "104"], ["500", "192", "104"]]
y_titles = [
    ["Inversed a<sub>CDOM</sub>(400) (m<sup>-1</sup>)", "Inversed a<sub>CDOM</sub>(405) (m<sup>-1</sup>)",
     "Inversed a<sub>CDOM</sub>(355) (m<sup>-1</sup>)"],
    ["Inversed a<sub>CDOM</sub>(443) (m<sup>-1</sup>)"] * 3,
    ["Inversed a<sub>CDM</sub>(400) (m<sup>-1</sup>)", "Inversed a<sub>CDM</sub>(405) (m<sup>-1</sup>)",
     "Inversed a<sub>CDM</sub>(355) (m<sup>-1</sup>)"],
    ["Inversed a<sub>CDM</sub>(443) (m<sup>-1</sup>)", "Inversed a<sub>CDM</sub>(443)(m<sup>-1</sup>)",
     "Inversed a<sub>CDM</sub>(443) (m<sup>-1</sup>)"],
]
x_titles = [
    ["<i>In-situ</i> a<sub>CDOM</sub>(400) (m<sup>-1</sup>)", "<i>In-situ</i> a<sub>CDOM</sub>(405) (m<sup>-1</sup>)",
     "<i>In-situ</i> a<sub>CDOM</sub>(355) (m<sup>-1</sup>)"],
    ["<i>In-situ</i> a<sub>CDOM</sub>(443) (m<sup>-1</sup>)"] * 3,
    ["<i>In-situ</i> a<sub>CDOM</sub>(400) (m<sup>-1</sup>)", "<i>In-situ</i> a<sub>CDOM</sub>(405) (m<sup>-1</sup>)",
     "<i>In-situ</i> a<sub>CDOM</sub>(355) (m<sup>-1</sup>)"],
    ["<i>In-situ</i> a<sub>CDOM</sub>(443) (m<sup>-1</sup>)", "<i>In-situ</i> a<sub>CDOM</sub>(443)(m<sup>-1</sup>)",
     "<i>In-situ</i> a<sub>CDOM</sub>(443) (m<sup>-1</sup>)"],
]
col_titles = ["IOCCG Synthetic data", "Global NOMAD data", "East China Sea data"]
row_titles = ["Shortest Wanvelengths", "443nm", "Shortest Wavelength", "443nm"]

tick_vals = [1e-3, 1e-2, 1e-1, 1, 10]
tick_text = ["1E-3", "0.01", "0.1", "1", "10"]
one_to_one = [1e-3, 10]

panels = [
    [ioccg_zhu_short, nomad_zhu_short, ecs_zhu_short],
    [ioccg_zhu_443, nomad_zhu_443, ecs_zhu_443],
    [ioccg_carder_short, nomad_carder_short, ecs_carder_short],
    [ioccg_carder_443, nomad_carder_443, ecs_carder_443],
]

# ---------------------------------------------------------------------------
# Layout geometry (pixels)
# ---------------------------------------------------------------------------
col_px = [(112, 372), (462, 721), (804, 1064)]
row_px = [(66, 248), (312, 495), (561, 744), (811, 994)]


def px_x(x):
    return x / W


def px_y(y):
    return 1 - y / H


minor_vals = [k * 10.0 ** e for e in range(-3, 1) for k in range(2, 10)]
SANS = "Liberation Sans, Arial, sans-serif"
SERIF = "Liberation Serif, Times New Roman, serif"
BLUE = "rgb(50,50,255)"

fig = go.Figure()
annotations = []
layout_axes = {}

for r in range(4):
    for c in range(3):
        idx = r * 3 + c + 1
        xa = "x" if idx == 1 else f"x{idx}"
        ya = "y" if idx == 1 else f"y{idx}"
        xkey = "xaxis" if idx == 1 else f"xaxis{idx}"
        ykey = "yaxis" if idx == 1 else f"yaxis{idx}"
        x0, x1 = col_px[c]
        y0, y1 = row_px[r]

        pts = panels[r][c]
        xs = [10 ** p[0] for p in pts]
        ys = [10 ** p[1] for p in pts]

        fig.add_trace(go.Scatter(
            x=one_to_one, y=one_to_one, mode="lines",
            line=dict(color="black", width=1), xaxis=xa, yaxis=ya,
            showlegend=False, hoverinfo="skip"))
        fig.add_trace(go.Scatter(
            x=xs, y=ys, mode="markers",
            marker=dict(symbol="circle-open", size=7, color=BLUE, line=dict(width=1, color=BLUE)),
            xaxis=xa, yaxis=ya, showlegend=False))

        common = dict(
            type="log", range=[-3, 1], tickmode="array", tickvals=tick_vals, ticktext=tick_text,
            ticks="inside", ticklen=4, tickwidth=1, tickcolor="black",
            minor=dict(ticks="inside", ticklen=2, tickvals=minor_vals, tickcolor="black"),
            showline=True, linecolor="black", linewidth=1, mirror="allticks",
            showgrid=False, zeroline=False,
            tickfont=dict(family=SANS, size=12, color="black", weight="bold"),
        )
        layout_axes[xkey] = dict(common, domain=[px_x(x0), px_x(x1)], anchor=ya)
        layout_axes[ykey] = dict(common, domain=[px_y(y1), px_y(y0)], anchor=xa)

        dom_x = f"{xa} domain"
        dom_y = f"{ya} domain"
        # method / band labels (upper left)
        annotations.append(dict(text=f"<b>{methods[r]}</b>", xref=dom_x, yref=dom_y, x=0.012, y=0.925,
                                xanchor="left", yanchor="middle", showarrow=False,
                                font=dict(family=SANS, size=14, color="black")))
        annotations.append(dict(text=f"<b>{bands[r][c]}</b>", xref=dom_x, yref=dom_y, x=0.012, y=0.83,
                                xanchor="left", yanchor="middle", showarrow=False,
                                font=dict(family=SANS, size=14, color="black")))
        # statistics (lower right)
        for txt, yy in ((f"R={r_vals[r][c]}", 0.275), (f"SD={sd_vals[r][c]}", 0.165),
                        (f"N={n_vals[r][c]}", 0.058)):
            annotations.append(dict(text=f"<b>{txt}</b>", xref=dom_x, yref=dom_y, x=0.75, y=yy,
                                    xanchor="left", yanchor="middle", showarrow=False,
                                    font=dict(family=SANS, size=14, color="black")))
        # axis titles
        annotations.append(dict(text=f"<b>{y_titles[r][c]}</b>", xref="paper", yref="paper",
                                x=px_x(x0 - 40), y=px_y((y0 + y1) / 2), textangle=-90,
                                xanchor="center", yanchor="middle", showarrow=False,
                                font=dict(family=SANS, size=13.5, color="black")))
        annotations.append(dict(text=f"<b>{x_titles[r][c]}</b>", xref="paper", yref="paper",
                                x=px_x((x0 + x1) / 2), y=px_y(y1 + 31),
                                xanchor="center", yanchor="middle", showarrow=False,
                                font=dict(family=SANS, size=13.5, color="black")))

# column headers
for c, (txt, cx, cy) in enumerate(zip(col_titles, [246, 591, 934], [19, 19, 23])):
    annotations.append(dict(text=f"<b>{txt}</b>", xref="paper", yref="paper",
                            x=px_x(cx), y=px_y(cy), xanchor="center", yanchor="middle",
                            showarrow=False, font=dict(family=SERIF, size=24, color="black")))

# row headers
for txt, cy in zip(row_titles, [166, 400, 655, 894]):
    annotations.append(dict(text=f"<b>{txt}</b>", xref="paper", yref="paper",
                            x=px_x(22), y=px_y(cy), textangle=-90, xanchor="center", yanchor="middle",
                            showarrow=False, font=dict(family=SERIF, size=27, color="black")))

fig.update_layout(
    width=W, height=H, margin=dict(l=0, r=0, t=0, b=0),
    paper_bgcolor="white", plot_bgcolor="white",
    annotations=annotations, **layout_axes,
)

fig.write_html("out.html")
